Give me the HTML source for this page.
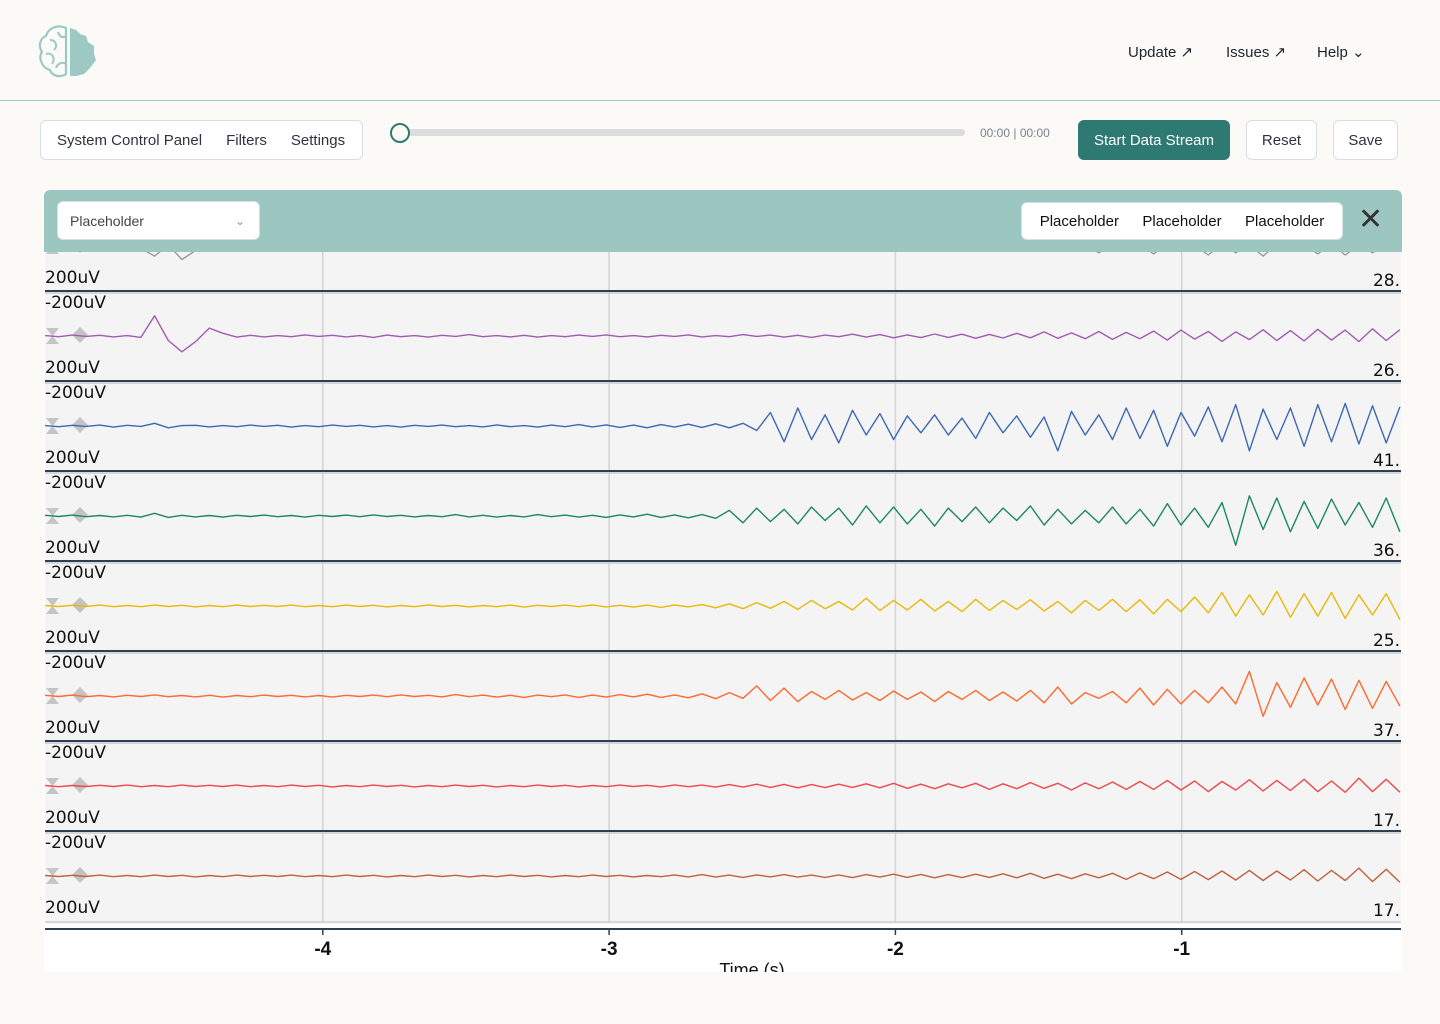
<!DOCTYPE html>
<html><head><meta charset="utf-8"><style>
body{margin:0;width:1440px;height:1024px;background:#fbfaf7;font-family:"Liberation Sans",sans-serif;position:relative;overflow:hidden}
.abs{position:absolute}
.btn{position:absolute;box-sizing:border-box;border:1px solid #d6dee8;border-radius:6px;background:#fff;color:#2d3340;font-size:15px;display:flex;align-items:center;justify-content:center}
</style></head><body>
<div class="abs" style="left:0;top:0;width:1440px;height:100px;border-bottom:1px solid #9cc9c3"></div>
<svg class="abs" style="left:38px;top:24px" width="60" height="56" viewBox="0 0 60 56">
<path d="M28 4 C20 0 10 4 8 12 C2 14 0 22 4 28 C0 34 4 44 12 46 C14 52 22 54 28 50 Z" fill="none" stroke="#9cc9c3" stroke-width="2.2"/>
<path d="M12 16 C18 16 20 22 16 26 M8 30 C14 28 18 34 14 40 M20 8 C22 14 26 14 28 12 M18 44 C20 38 26 38 28 40" fill="none" stroke="#9cc9c3" stroke-width="2"/>
<path d="M32 4 L38 6 L42 10 L48 12 L50 18 L56 22 L56 30 L58 36 L52 44 L46 50 L38 52 L32 52 Z" fill="#9cc9c3"/>
</svg>
<div class="abs" style="left:1128px;top:43px;font-size:15px;color:#1e2430">Update ↗</div>
<div class="abs" style="left:1226px;top:43px;font-size:15px;color:#1e2430">Issues ↗</div>
<div class="abs" style="left:1317px;top:43px;font-size:15px;color:#1e2430">Help ⌄</div>

<div class="btn" style="left:40px;top:120px;width:323px;height:40px;justify-content:flex-start;padding-left:16px">
<span>System Control Panel</span>
<span style="margin-left:24px">Filters</span>
<span style="margin-left:24px">Settings</span></div>
<div class="abs" style="left:400px;top:129px;width:565px;height:7px;border-radius:4px;background:#dcdcdc"></div>
<div class="abs" style="left:390px;top:123px;width:16px;height:16px;border:2px solid #2e7a72;border-radius:50%;background:#fbfaf7"></div>
<div class="abs" style="left:980px;top:126px;font-size:12px;color:#7a8090">00:00 | 00:00</div>
<div class="btn" style="left:1078px;top:120px;width:152px;height:40px;background:#2e7a72;color:#fff;border-color:#2e7a72">Start Data Stream</div>
<div class="btn" style="left:1246px;top:120px;width:71px;height:40px">Reset</div>
<div class="btn" style="left:1333px;top:120px;width:65px;height:40px">Save</div>

<div class="abs" style="left:44px;top:190px;width:1358px;height:782px;background:#fff;border-radius:6px"></div>
<svg id="chart" class="abs" style="left:0;top:0" width="1440" height="1024"></svg>
<div class="abs" style="left:44px;top:190px;width:1358px;height:62px;background:#9cc7c1;border-radius:6px 6px 0 0"></div>
<div class="btn" style="left:57px;top:201px;width:203px;height:39px;justify-content:space-between;padding:0 14px 0 12px;color:#444;font-size:14px"><span>Placeholder</span><span style="color:#8a94a6;font-size:12px">⌄</span></div>
<div class="btn" style="left:1021px;top:202px;width:322px;height:38px;color:#111;justify-content:space-around;padding:0 6px">
<span>Placeholder</span><span>Placeholder</span><span>Placeholder</span></div>
<div class="abs" style="left:1358px;top:203px;font-size:30px;color:#333;line-height:34px">✕</div>

<script>
const startTime = -4.97;
const sampleStep = 0.0478;
const xTicks = [-5, -4, -3, -2, -1];
const channelNames = ["28.","26.","41.","36.","25.","37.","17.","17."];
const channelColors = ["#9a9a9a","#a05cb0","#3d68b5","#1f8760","#e8b90a","#ff6a2e","#f0484c","#c0623a"];
const grayCh = [0,3,-2,4,-3,2,-5,-10,-45,5,-60,-20,4,-3,2,-4,3,-2,5,-3,2,-4,3,-2,4,-3,2,-5,3,-2,4,-3,2,-4,3,-2,5,-3,2,-4,3,-2,4,-3,2,-5,3,-2,4,-3,2,-4,3,-2,5,-3,2,-4,3,-2,4,-3,2,-5,3,-2,4,-3,2,-4,3,-15,5,-10,4,-20,6,-30,5,-15,8,-35,10,-25,6,-40,12,-30,5,-45,10,-20,8,-35,12,-40,6,-30,10,-25];
const purpleCh = [2,-3,4,-2,3,-4,2,-6,90,-20,-70,-25,35,12,-5,3,-4,2,-3,5,-2,3,-4,2,-6,4,-3,2,-5,3,-2,6,-3,2,-4,3,-5,2,-3,4,-2,5,-3,2,-4,3,-2,5,-4,2,-3,6,-2,4,-5,3,-6,4,-3,8,-5,6,-8,5,-7,9,-6,8,-10,7,-9,12,-8,18,-10,14,-12,20,-15,16,-12,22,-18,26,-14,20,-24,18,-16,28,-20,24,-22,30,-18,26,-25,32,-20,28];
const blueCh = [2,-3,3,-2,4,-5,3,-2,12,-8,2,3,-4,2,-3,4,-2,3,-5,2,-3,4,-2,3,-4,2,-5,3,-2,4,-3,2,-4,5,-3,2,-5,4,-3,6,-4,5,-6,4,-8,6,-5,8,-6,10,-8,12,-20,60,-70,80,-60,50,-75,70,-40,55,-60,45,-30,50,-40,35,-55,60,-30,45,-50,40,-110,65,-40,50,-60,80,-55,70,-90,60,-45,85,-70,95,-110,75,-60,80,-90,95,-70,100,-80,90,-75,85];
const greenCh = [3,-2,4,-3,2,-4,3,-5,12,-6,3,-4,2,-5,3,-2,4,-3,2,-5,3,-2,4,-3,5,-2,3,-4,2,-3,6,-4,3,-5,2,-4,6,-3,4,-5,3,-6,5,-4,8,-6,5,-8,6,-10,25,-30,35,-25,30,-35,40,-20,35,-40,45,-30,40,-35,30,-45,35,-25,40,-30,35,-20,45,-40,30,-35,25,-30,40,-35,30,-45,55,-40,35,-50,60,-130,90,-60,80,-70,65,-55,75,-40,60,-50,80,-70];
const yellowCh = [2,-2,3,-2,4,-3,2,-3,4,-2,3,-4,2,-3,4,-2,3,-2,4,-3,2,-3,4,-2,3,-4,2,-3,5,-2,3,-4,2,-3,4,-5,3,-2,4,-3,5,-4,3,-5,4,-6,5,-4,6,-8,10,-12,15,-10,20,-15,25,-12,20,-18,35,-20,25,-18,30,-22,20,-25,30,-20,25,-15,28,-22,20,-30,25,-20,30,-25,28,-35,30,-25,40,-30,60,-45,50,-40,65,-50,55,-45,60,-55,50,-40,55,-60];
const orangeCh = [3,-2,4,-3,2,-4,3,-2,5,-3,2,-4,3,-5,2,-3,4,-2,3,-4,2,-5,3,-2,4,-3,5,-2,3,-4,6,-3,4,-5,3,-6,4,-3,5,-6,4,-5,6,-4,8,-6,5,-8,10,-12,15,-10,45,-20,35,-25,20,-15,25,-18,15,-20,22,-15,18,-25,20,-15,25,-20,18,-22,25,-30,40,-35,15,-10,20,-30,35,-40,30,-35,25,-30,40,-35,110,-90,60,-50,80,-40,75,-60,70,-55,65,-45];
const redCh = [2,-3,2,-2,3,-2,4,-3,2,-3,4,-2,3,-2,4,-3,2,-3,4,-2,3,-4,2,-3,4,-2,3,-4,2,-3,4,-2,3,-4,2,-3,4,-2,3,-4,2,-3,4,-2,3,-4,5,-3,4,-5,6,-5,8,-6,7,-8,6,-7,8,-6,10,-8,12,-10,8,-12,10,-8,12,-15,10,-12,15,-10,12,-18,14,-12,18,-15,20,-15,25,-18,22,-25,20,-18,28,-22,25,-20,30,-25,22,-28,35,-25,30,-28];
const brownCh = [2,-2,3,-2,4,-3,2,-3,4,-2,3,-4,2,-3,4,-2,3,-2,4,-3,2,-3,4,-2,3,-4,2,-3,4,-2,3,-4,2,-3,4,-2,3,-4,2,-3,4,-2,3,-4,2,-3,5,-4,6,-5,4,-6,5,-4,6,-5,4,-6,5,-7,6,-5,8,-6,7,-8,6,-7,8,-6,10,-8,12,-10,8,-12,10,-8,12,-15,14,-12,18,-15,20,-16,22,-18,25,-20,22,-18,28,-22,25,-20,35,-25,30,-28];
const channels = [grayCh,purpleCh,blueCh,greenCh,yellowCh,orangeCh,redCh,brownCh];

const NS = "http://www.w3.org/2000/svg";
const svg = document.getElementById('chart');
const xScale = t => 1468 + 286.3 * t;
const firstBase = 246, chH = 90;
const yScale = (ch, v) => firstBase + ch * chH - v * 0.225;
function mk(tag, attrs) { const e = document.createElementNS(NS, tag); for (const k in attrs) e.setAttribute(k, attrs[k]); return e; }

const defs = mk('defs', {});
const cp = mk('clipPath', {id: 'plotclip'});
cp.appendChild(mk('rect', {x: 45, y: 190, width: 1356, height: 782}));
defs.appendChild(cp); svg.appendChild(defs);
const g = mk('g', {'clip-path': 'url(#plotclip)'});
svg.appendChild(g);

const bg = mk('rect', {x: 45, y: 190, width: 1356, height: 734, fill: '#f4f4f4'});


g.appendChild(bg);

xTicks.forEach(t => {
  const gl = mk('line', {x1: xScale(t), x2: xScale(t), y1: 190, y2: 922, stroke: '#d4d4d4', 'stroke-width': 1.5});
  
  
  g.appendChild(gl);
});

channels.forEach((vals, ch) => {
  const base = firstBase + ch * chH;
  if (ch > 0) {
    const sep = mk('line', {x1: 45, x2: 1401, y1: base - 45, y2: base - 45, stroke: '#2f3e50', 'stroke-width': 2});
    
    
    g.appendChild(sep);
    g.appendChild(mk('line', {x1: 45, x2: 1401, y1: base - 43, y2: base - 43, stroke: '#c8ccd2', 'stroke-width': 1.5}));
    const top = mk('text', {x: 45, y: base - 28, 'font-size': 17, fill: '#111', 'font-family': 'DejaVu Sans, sans-serif'});
    top.textContent = '-200uV';
    
    
    g.appendChild(top);
  }
  const ic1 = mk('path', {d: `M46 ${base-8} h13 l-6.5 8 l6.5 8 h-13 l6.5 -8 z`, fill: '#c4c4c4'});
  
  
  g.appendChild(ic1);
  const ic2 = mk('path', {d: `M80 ${base-9} l8 8 l-8 8 l-8 -8 z`, fill: '#c4c4c4'});
  
  
  g.appendChild(ic2);
  let d = '';
  vals.forEach((v, i) => { d += (i ? 'L' : 'M') + xScale(startTime + i * sampleStep).toFixed(1) + ' ' + yScale(ch, v).toFixed(1); });
  const p = mk('path', {d: d, fill: 'none', stroke: channelColors[ch], 'stroke-width': 1.4, 'stroke-linejoin': 'round'});
  
  
  g.appendChild(p);
  const bot = mk('text', {x: 45, y: base + 37, 'font-size': 17, fill: '#111', 'font-family': 'DejaVu Sans, sans-serif'});
  bot.textContent = '200uV';
  
  
  g.appendChild(bot);
  const nm = mk('text', {x: 1400, y: base + 40, 'font-size': 17, fill: '#111', 'text-anchor': 'end', 'font-family': 'DejaVu Sans, sans-serif'});
  nm.textContent = channelNames[ch];
  
  
  g.appendChild(nm);
});
g.appendChild(mk('line', {x1: 45, x2: 1401, y1: 922, y2: 922, stroke: '#c8ccd2', 'stroke-width': 1.5}));
const ax = mk('line', {x1: 45, x2: 1401, y1: 929, y2: 929, stroke: '#2f3e50', 'stroke-width': 2});


g.appendChild(ax);
xTicks.forEach(t => {
  g.appendChild(mk('line', {x1: xScale(t), x2: xScale(t), y1: 929, y2: 935, stroke: '#2f3e50', 'stroke-width': 1.5}));
  const tl = mk('text', {x: xScale(t), y: 955, 'font-size': 19, 'font-weight': 'bold', fill: '#111', 'text-anchor': 'middle', 'font-family': 'Liberation Sans, sans-serif'});
  tl.textContent = String(t);
  
  
  g.appendChild(tl);
});
const xt = mk('text', {x: 752, y: 976, 'font-size': 18, fill: '#111', 'text-anchor': 'middle', 'font-family': 'Liberation Sans, sans-serif'});
xt.textContent = 'Time (s)';


g.appendChild(xt);
</script>
</body></html>
